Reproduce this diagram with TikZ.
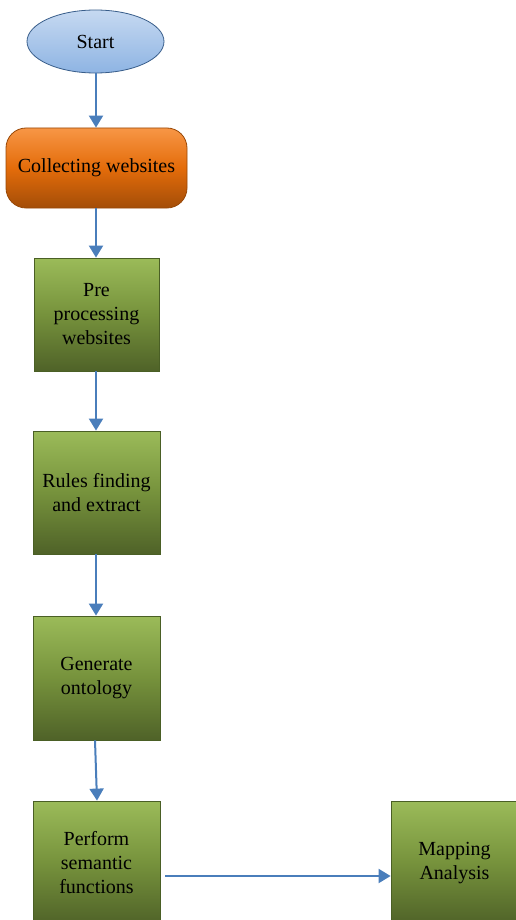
\documentclass[tikz,border=0pt]{standalone}
\usepackage{fontspec}
\setmainfont{Liberation Serif}
\usetikzlibrary{arrows.meta,shapes.geometric,calc}
\definecolor{arrowblue}{HTML}{4A7EBB}
\definecolor{gtop}{HTML}{9BBB59}
\definecolor{gmid}{HTML}{76923C}
\definecolor{gbot}{HTML}{4F6228}
\definecolor{gborder}{HTML}{4A5F25}
\definecolor{otop}{HTML}{F79646}
\definecolor{omid}{HTML}{E46C0A}
\definecolor{obot}{HTML}{A34D08}
\definecolor{oborder}{HTML}{984807}
\definecolor{btop}{HTML}{C6D9F1}
\definecolor{bbot}{HTML}{8EB4E3}
\definecolor{bborder}{HTML}{385D8A}
\tikzset{
  txt/.style={font=\fontsize{20}{24}\selectfont, align=center, text=black, inner sep=0pt},
  greenbox/.style={txt, draw=gborder, line width=0.8pt, top color=gtop, bottom color=gbot, middle color=gmid, shading=axis},
  orangebox/.style={txt, draw=oborder, line width=0.8pt, rounded corners=20pt, top color=otop, bottom color=obot, middle color=omid, shading=axis},
  startell/.style={txt, ellipse, draw=bborder, line width=0.8pt, top color=btop, bottom color=bbot, shading=axis},
  arr/.style={draw=arrowblue, line width=2pt, -{Triangle[length=12pt,width=14pt]}}
}
\begin{document}
\begin{tikzpicture}[x=1pt,y=-1pt]
\useasboundingbox (0,0) rectangle (516,920);
\clip (0,0) rectangle (516,920);
\node[startell, minimum width=137pt, minimum height=63pt] (start) at (95.5,41.5) {Start};
\node[orangebox, minimum width=181pt, minimum height=80pt] (collect) at (96.5,168) {Collecting websites};
\node[greenbox, minimum width=125pt, minimum height=113pt] (pre) at (96.5,314.5) {Pre\\processing\\websites};
\node[greenbox, minimum width=127pt, minimum height=123pt] (rules) at (96.5,492.5) {Rules finding\\and extract};
\node[greenbox, minimum width=127pt, minimum height=124pt] (gen) at (96.5,678) {Generate\\ontology};
\node[greenbox, minimum width=127pt, minimum height=124pt] (perf) at (96.5,863) {Perform\\semantic\\functions};
\node[greenbox, minimum width=127pt, minimum height=124pt] (map) at (454.5,863) {Mapping\\Analysis};
\coordinate (pstart) at (165,876);
\draw[arr] (start.south -| 96,0) -- (collect.north -| 96,0);
\draw[arr] (collect.south -| 96,0) -- (pre.north -| 96,0);
\draw[arr] (pre.south -| 96,0) -- (rules.north -| 96,0);
\draw[arr] (rules.south -| 96,0) -- (gen.north -| 96,0);
\draw[arr] ($(gen.south)+(-1.5,0)$) -- ($(perf.north)+(0.5,0)$);
\draw[arr] (pstart) -- (pstart -| map.west);
\end{tikzpicture}
\end{document}
